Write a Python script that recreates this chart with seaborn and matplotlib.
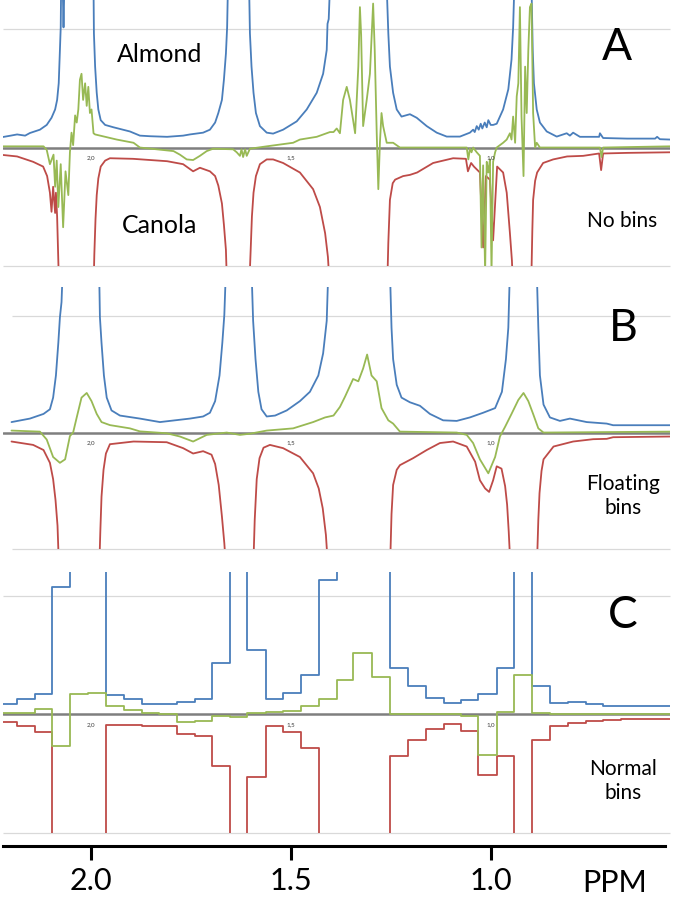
import matplotlib
matplotlib.use("Agg")
import matplotlib.pyplot as plt
import seaborn as sns

# ---------------- Panel A (no bins) ----------------
A_blue_ppm = [2.227, 2.200, 2.184, 2.164, 2.152, 2.127, 2.110, 2.098, 2.089, 2.084, 2.080, 2.077, 2.075, 2.074, 2.070,
              2.068, 2.066, 2.030, 1.993, 1.992, 1.989, 1.985, 1.981, 1.975, 1.964, 1.943, 1.902, 1.877, 1.852, 1.809,
              1.769, 1.752, 1.719, 1.702, 1.689, 1.681, 1.672, 1.667, 1.662, 1.659, 1.657, 1.630, 1.604, 1.602, 1.598,
              1.593, 1.587, 1.577, 1.560, 1.544, 1.519, 1.485, 1.460, 1.435, 1.419, 1.410, 1.408, 1.405, 1.402, 1.330,
              1.260, 1.256, 1.252, 1.244, 1.235, 1.223, 1.202, 1.185, 1.160, 1.135, 1.110, 1.077, 1.052, 1.044, 1.040,
              1.035, 1.030, 1.025, 1.021, 1.015, 1.010, 1.006, 1.000, 0.994, 0.985, 0.969, 0.956, 0.948, 0.944, 0.941,
              0.920, 0.898, 0.895, 0.892, 0.885, 0.877, 0.860, 0.835, 0.810, 0.802, 0.794, 0.777, 0.729, 0.727, 0.719,
              0.659, 0.589, 0.584, 0.577, 0.552]
A_blue = [0.084, 0.10, 0.11, 0.10, 0.122, 0.15, 0.19, 0.25, 0.32, 0.40, 0.54, 0.82, 1.01, 1.35, 1.35,
          1.01, 1.35, 3.0, 1.35, 0.96, 0.68, 0.46, 0.32, 0.23, 0.19, 0.17, 0.135, 0.10, 0.095, 0.09,
          0.10, 0.11, 0.125, 0.15, 0.21, 0.29, 0.40, 0.57, 0.79, 1.01, 1.35, 3.0, 1.35, 0.96, 0.68,
          0.46, 0.29, 0.18, 0.125, 0.117, 0.15, 0.22, 0.32, 0.46, 0.62, 0.82, 1.04, 1.08, 1.35, 3.0,
          1.35, 0.96, 0.68, 0.46, 0.32, 0.26, 0.28, 0.25, 0.18, 0.125, 0.092, 0.092, 0.125, 0.15, 0.13,
          0.18, 0.15, 0.20, 0.16, 0.21, 0.17, 0.23, 0.19, 0.19, 0.20, 0.32, 0.49, 0.74, 1.01, 1.35,
          3.0, 1.35, 0.82, 0.54, 0.32, 0.21, 0.135, 0.092, 0.12, 0.10, 0.125, 0.09, 0.09, 0.12, 0.08,
          0.075, 0.075, 0.09, 0.07, 0.067]

A_red_ppm = [2.227, 2.184, 2.144, 2.119, 2.109, 2.102, 2.098, 2.094, 2.089, 2.087, 2.084, 2.079, 2.040, 1.993, 1.991,
             1.988, 1.985, 1.981, 1.975, 1.964, 1.952, 1.894, 1.809, 1.769, 1.744, 1.727, 1.702, 1.689, 1.681, 1.672,
             1.667, 1.662, 1.659, 1.632, 1.604, 1.600, 1.597, 1.593, 1.587, 1.577, 1.560, 1.544, 1.519, 1.477, 1.444,
             1.427, 1.414, 1.407, 1.402, 1.330, 1.259, 1.256, 1.252, 1.245, 1.239, 1.219, 1.202, 1.184, 1.164, 1.144,
             1.094, 1.062, 1.057, 1.049, 1.042, 1.027, 1.019, 1.012, 1.002, 0.994, 0.984, 0.969, 0.960, 0.952, 0.947,
             0.944, 0.920, 0.899, 0.896, 0.894, 0.889, 0.884, 0.869, 0.844, 0.809, 0.769, 0.729, 0.724, 0.719, 0.659,
             0.552]
A_red = [-0.06, -0.075, -0.12, -0.16, -0.24, -0.38, -0.54, -0.33, -0.55, -0.38, -0.58, -1.2, -3.0, -1.2, -0.9,
         -0.6, -0.4, -0.26, -0.16, -0.11, -0.09, -0.095, -0.115, -0.14, -0.20, -0.17, -0.20, -0.24, -0.32, -0.47,
         -0.65, -0.86, -1.2, -3.0, -1.2, -0.85, -0.58, -0.38, -0.24, -0.14, -0.10, -0.10, -0.13, -0.21, -0.35,
         -0.50, -0.72, -0.92, -1.2, -3.0, -1.2, -0.8, -0.44, -0.30, -0.27, -0.24, -0.23, -0.21, -0.17, -0.13,
         -0.09, -0.095, -0.20, -0.13, -0.16, -0.21, -0.84, -0.24, -0.27, -0.78, -0.16, -0.21, -0.38, -0.72, -0.95,
         -1.2, -3.0, -1.2, -0.7, -0.44, -0.28, -0.21, -0.13, -0.10, -0.075, -0.07, -0.05, -0.19, -0.05, -0.045,
         -0.04]

A_green_ppm = [2.227, 2.118, 2.110, 2.102, 2.093, 2.089, 2.085, 2.081, 2.075, 2.069, 2.063, 2.056, 2.052, 2.048, 2.044,
               2.039, 2.035, 2.031, 2.027, 2.023, 2.019, 2.014, 2.010, 2.006, 2.002, 1.998, 1.993, 1.989, 1.935, 1.893,
               1.877, 1.793, 1.777, 1.760, 1.744, 1.727, 1.710, 1.694, 1.644, 1.635, 1.627, 1.623, 1.619, 1.614, 1.610,
               1.602, 1.560, 1.494, 1.477, 1.435, 1.402, 1.393, 1.385, 1.377, 1.369, 1.360, 1.352, 1.344, 1.339, 1.331,
               1.327, 1.324, 1.319, 1.310, 1.302, 1.294, 1.290, 1.285, 1.281, 1.277, 1.273, 1.269, 1.260, 1.244, 1.227,
               1.060, 1.056, 1.052, 1.048, 1.044, 1.035, 1.027, 1.023, 1.019, 1.014, 1.010, 1.006, 1.002, 0.998, 0.994,
               0.989, 0.985, 0.977, 0.969, 0.960, 0.952, 0.948, 0.944, 0.939, 0.935, 0.931, 0.927, 0.923, 0.918, 0.914,
               0.910, 0.906, 0.902, 0.898, 0.894, 0.889, 0.885, 0.877, 0.727, 0.723, 0.719, 0.552]
A_green = [0.01, 0.01, -0.02, -0.14, -0.06, -0.33, -0.11, -0.5, -0.14, -0.67, -0.2, -0.4, -0.04, 0.125, 0.02,
           0.27, 0.21, 0.32, 0.57, 0.62, 0.40, 0.54, 0.35, 0.51, 0.29, 0.32, 0.12, 0.11, 0.067, 0.04,
           0.0, -0.03, -0.06, -0.10, -0.105, -0.07, -0.03, -0.01, -0.015, -0.04, -0.07, -0.015, -0.08, -0.015, -0.07,
           -0.01, 0.01, 0.04, 0.067, 0.09, 0.13, 0.13, 0.16, 0.12, 0.40, 0.51, 0.40, 0.23, 0.12, 0.68,
           1.18, 0.95, 0.18, 0.40, 0.62, 1.21, 0.82, 0.12, -0.35, 0.04, 0.29, 0.18, 0.04, 0.04, 0.0,
           0.0, -0.10, -0.01, -0.04, 0.0, -0.04, -0.07, -0.84, -0.15, -1.05, -0.12, -0.21, -0.10, -1.05, -0.12,
           -0.04, 0.0, 0.02, 0.04, 0.067, 0.12, 0.067, 0.26, 0.04, 0.43, 0.54, 1.18, 0.26, -0.24, 0.68,
           0.29, 0.82, 1.18, 1.21, 0.29, 0.0, 0.04, 0.0, 0.0, -0.08, 0.0, 0.01]

# ---------------- Panel B (floating bins) ----------------
B_blue_ppm = [2.198, 2.152, 2.118, 2.102, 2.094, 2.087, 2.081, 2.077, 2.073, 2.070, 2.027, 1.979, 1.977, 1.973, 1.967,
              1.960, 1.948, 1.927, 1.877, 1.827, 1.752, 1.719, 1.702, 1.689, 1.678, 1.671, 1.666, 1.662, 1.630, 1.598,
              1.594, 1.588, 1.581, 1.573, 1.560, 1.539, 1.510, 1.477, 1.452, 1.431, 1.419, 1.410, 1.406, 1.330, 1.252,
              1.248, 1.244, 1.235, 1.223, 1.202, 1.177, 1.152, 1.119, 1.085, 1.052, 1.019, 0.989, 0.972, 0.962, 0.956,
              0.952, 0.918, 0.885, 0.881, 0.877, 0.868, 0.852, 0.827, 0.802, 0.760, 0.710, 0.694, 0.552]
B_blue = [0.09, 0.12, 0.16, 0.20, 0.30, 0.49, 0.77, 0.99, 1.12, 1.4, 3.0, 1.4, 0.99, 0.77, 0.49,
          0.30, 0.19, 0.146, 0.12, 0.09, 0.12, 0.138, 0.17, 0.27, 0.49, 0.77, 1.01, 1.4, 3.0, 1.4,
          0.96, 0.63, 0.35, 0.20, 0.138, 0.146, 0.19, 0.27, 0.35, 0.49, 0.68, 0.96, 1.4, 3.0, 1.4,
          0.90, 0.63, 0.41, 0.30, 0.26, 0.23, 0.16, 0.105, 0.10, 0.13, 0.17, 0.21, 0.35, 0.63, 0.90,
          1.4, 3.0, 1.4, 0.90, 0.49, 0.24, 0.13, 0.10, 0.12, 0.09, 0.077, 0.063, 0.063]

B_red_ppm = [2.198, 2.144, 2.118, 2.102, 2.094, 2.088, 2.083, 2.079, 2.030, 1.979, 1.976, 1.973, 1.968, 1.962, 1.952,
             1.893, 1.810, 1.769, 1.744, 1.719, 1.698, 1.689, 1.680, 1.672, 1.666, 1.661, 1.627, 1.594, 1.590, 1.585,
             1.578, 1.568, 1.552, 1.519, 1.477, 1.444, 1.430, 1.420, 1.412, 1.406, 1.330, 1.252, 1.248, 1.244, 1.235,
             1.227, 1.194, 1.160, 1.127, 1.094, 1.060, 1.039, 1.027, 1.014, 1.004, 0.994, 0.985, 0.973, 0.964, 0.959,
             0.955, 0.950, 0.918, 0.885, 0.881, 0.878, 0.873, 0.868, 0.843, 0.794, 0.744, 0.710, 0.694, 0.552]
B_red = [-0.077, -0.106, -0.15, -0.26, -0.40, -0.58, -0.80, -1.2, -3.0, -1.2, -0.85, -0.55, -0.32, -0.18, -0.10,
         -0.077, -0.083, -0.134, -0.18, -0.16, -0.19, -0.27, -0.45, -0.72, -0.95, -1.2, -3.0, -1.2, -0.75, -0.40,
         -0.22, -0.13, -0.106, -0.134, -0.21, -0.35, -0.48, -0.65, -0.88, -1.2, -3.0, -1.2, -0.70, -0.45, -0.32,
         -0.28, -0.22, -0.15, -0.09, -0.077, -0.12, -0.25, -0.41, -0.48, -0.51, -0.41, -0.29, -0.31, -0.46, -0.62,
         -0.85, -1.2, -3.0, -1.2, -0.75, -0.52, -0.33, -0.23, -0.12, -0.077, -0.057, -0.054, -0.04, -0.034]

B_green_ppm = [2.198, 2.127, 2.110, 2.094, 2.077, 2.064, 2.052, 2.044, 2.035, 2.023, 2.010, 1.998, 1.985, 1.973, 1.952,
               1.902, 1.877, 1.810, 1.777, 1.744, 1.710, 1.660, 1.627, 1.602, 1.560, 1.494, 1.444, 1.414, 1.393, 1.377,
               1.364, 1.344, 1.331, 1.319, 1.309, 1.298, 1.285, 1.273, 1.256, 1.244, 1.227, 1.085, 1.060, 1.044, 1.027,
               1.006, 0.989, 0.977, 0.964, 0.948, 0.931, 0.918, 0.906, 0.894, 0.881, 0.868, 0.552]
B_green = [0.017, 0.008, -0.06, -0.21, -0.26, -0.23, -0.03, 0.0, 0.13, 0.30, 0.34, 0.27, 0.16, 0.09, 0.064,
           0.036, 0.01, -0.006, -0.034, -0.077, -0.02, 0.0, -0.02, -0.01, 0.017, 0.036, 0.09, 0.13, 0.146, 0.22,
           0.31, 0.46, 0.44, 0.55, 0.67, 0.49, 0.44, 0.21, 0.105, 0.077, 0.008, 0.0, -0.02, -0.09, -0.23,
           -0.35, -0.21, -0.034, 0.05, 0.16, 0.28, 0.34, 0.27, 0.16, 0.036, 0.0, 0.008]

# ---------------- Panel C (normal bins) ----------------
C_edges = [2.227, 2.185, 2.139, 2.098, 2.052, 2.006, 1.962, 1.918, 1.873, 1.829, 1.785, 1.739, 1.696, 1.652, 1.609,
           1.563, 1.519, 1.474, 1.429, 1.385, 1.344, 1.296, 1.252, 1.206, 1.162, 1.117, 1.074, 1.031, 0.985, 0.942,
           0.898, 0.852, 0.808, 0.763, 0.719, 0.674, 0.629, 0.584, 0.552]
C_blue = [0.086, 0.133, 0.169, 1.07, 3.0, 3.0, 0.16, 0.133, 0.091, 0.091, 0.105, 0.133, 0.43, 3.0, 0.54,
          0.127, 0.18, 0.335, 1.13, 3.0, 3.0, 3.0, 0.39, 0.24, 0.14, 0.094, 0.12, 0.169, 0.39, 3.0,
          0.24, 0.094, 0.105, 0.086, 0.072, 0.072, 0.072, 0.072]
C_red = [-0.068, -0.096, -0.15, -3.0, -3.0, -3.0, -0.09, -0.09, -0.096, -0.096, -0.167, -0.18, -0.435, -3.0, -0.53,
         -0.096, -0.15, -0.28, -3.0, -3.0, -3.0, -3.0, -0.35, -0.22, -0.124, -0.082, -0.138, -0.51, -0.35, -3.0,
         -0.22, -0.096, -0.073, -0.054, -0.045, -0.04, -0.04, -0.04]
C_green = [0.01, 0.015, 0.045, -0.27, 0.17, 0.18, 0.072, 0.04, 0.01, 0.0, -0.068, -0.054, -0.01, -0.025, 0.01,
           0.017, 0.03, 0.072, 0.127, 0.29, 0.515, 0.315, 0.0, 0.0, 0.0, 0.0, -0.017, -0.345, 0.017, 0.335,
           0.01, 0.005, 0.005, 0.005, 0.005, 0.005, 0.005, 0.005]

tick_ppm = [2.0, 1.5, 1.0]
tick_labels = ["2.0", "1.5", "1.0"]
inner_labels = ["2,0", "1,5", "1,0"]

BLUE = "#4a7ebb"
RED = "#be4b48"
GREEN = "#98b954"

sns.set_style("white")
plt.rcParams["font.family"] = ["Lato", "DejaVu Sans"]

W, H = 685, 897
fig = plt.figure(figsize=(W / 100, H / 100), dpi=100)
XL = (2.2193, 0.5518)


def panel(top_px, bot_px, ylim, grid_start):
    ax = fig.add_axes([3 / W, (H - bot_px) / H, 667 / W, (bot_px - top_px) / H])
    for s in ax.spines.values():
        s.set_visible(False)
    ax.set_xticks([])
    ax.set_yticks([])
    ax.hlines([1, -1], grid_start, XL[1], color="#d9d9d9", lw=0.9, clip_on=False, zorder=0)
    ax.axhline(0, color="#7f7f7f", lw=1.8, zorder=1)
    for p, lab in zip(tick_ppm, inner_labels):
        ax.text(p, -0.085, lab, fontsize=4.5, ha="center", va="center", color="#404040")
    return ax


def curve(ax, x, y, color, steps=False):
    kw = {"drawstyle": "steps-post"} if steps else {}
    sns.lineplot(x=x, y=y, ax=ax, color=color, lw=1.3, estimator=None, sort=False,
                 legend=False, zorder=2, **kw)


axA = panel(0, 266.5, (-1, 1.24), XL[0])
curve(axA, A_blue_ppm, A_blue, BLUE)
curve(axA, A_red_ppm, A_red, RED)
curve(axA, A_green_ppm, A_green, GREEN)

axB = panel(287, 549, (-1, 1.25), 2.198)
curve(axB, B_blue_ppm, B_blue, BLUE)
curve(axB, B_red_ppm, B_red, RED)
curve(axB, B_green_ppm, B_green, GREEN)

axC = panel(572, 833, (-1, 1.2), XL[0])
curve(axC, C_edges, C_blue + [C_blue[-1]], BLUE, steps=True)
curve(axC, C_edges, C_red + [C_red[-1]], RED, steps=True)
curve(axC, C_edges, C_green + [C_green[-1]], GREEN, steps=True)

for ax, yl in ((axA, (-1, 1.24)), (axB, (-1, 1.25)), (axC, (-1, 1.2))):
    ax.set_xlim(*XL)
    ax.set_ylim(*yl)
    ax.set_xlabel("")
    ax.set_ylabel("")

# bottom PPM axis
sp = axC.spines["bottom"]
sp.set_visible(True)
sp.set_position(("outward", 9.4))
sp.set_linewidth(2.2)
sp.set_color("black")
sp.set_bounds(XL[0], 0.564)
axC.set_xticks(tick_ppm)
axC.set_xticklabels(tick_labels)
axC.tick_params(axis="x", bottom=True, direction="out", length=10, width=2.2,
                labelsize=22, pad=5, colors="black")


def ftext(x, y, s, size, **kw):
    fig.text(x / W, 1 - y / H, s, fontsize=size, ha="center", va="center", color="black", **kw)


ftext(160, 55, "Almond", 18)
ftext(160, 225, "Canola", 18)
ftext(617, 47, "A", 32)
ftext(622, 221, "No bins", 15)
ftext(623, 328, "B", 32)
ftext(623, 496, "Floating\nbins", 15, linespacing=1.3)
ftext(623, 615, "C", 32)
ftext(623, 781, "Normal\nbins", 15, linespacing=1.3)
ftext(615, 883, "PPM", 22)

fig.savefig("out.png", dpi=100, facecolor="white")
